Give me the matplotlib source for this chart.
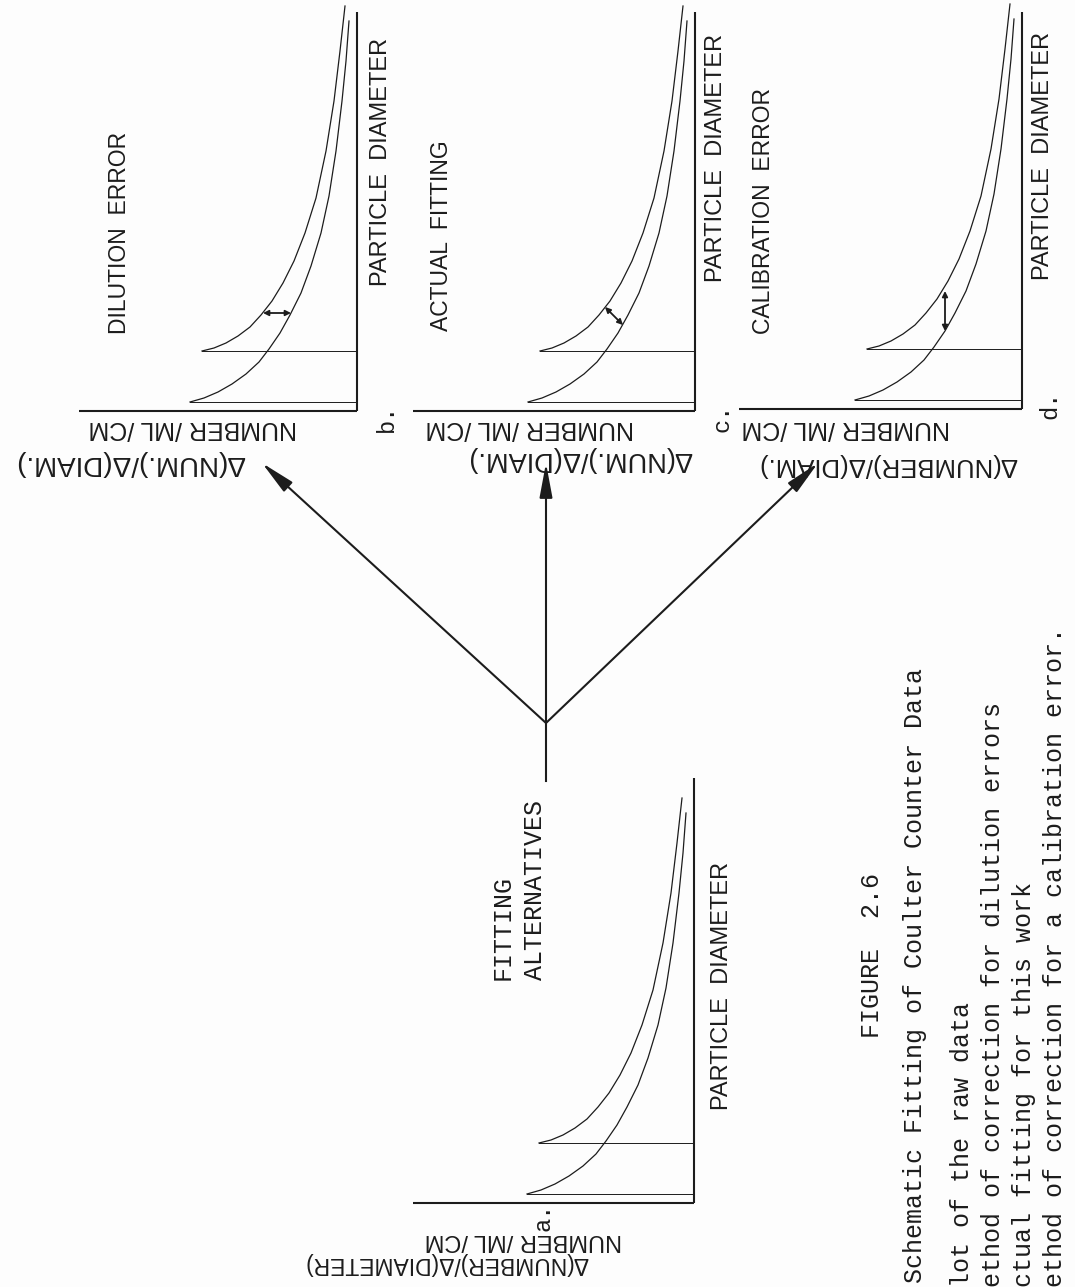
import numpy as np
import matplotlib
matplotlib.use('Agg')
import matplotlib.pyplot as plt
from matplotlib.transforms import Affine2D

# schematic curves in panel units:
# diameter = distance up from the number axis, number = distance left of the diameter axis
raw_diam = [9, 13, 19, 27, 37, 49, 62, 78, 96, 118, 145, 178, 215, 260, 310, 350, 390]
raw_num = [167, 153, 139, 125, 111, 98, 88, 77, 67, 56, 46, 36, 28, 21, 15, 11, 8]
fit_diam = [60, 63, 68, 75, 84, 96, 110, 128, 150, 178, 213, 260, 310, 360, 405]
fit_num = [155, 143, 131, 119, 107, 96, 85, 74, 63, 52, 41, 31, 23, 17, 12]

panel_keys = ['a', 'b', 'c', 'd']
panel_titles = ['', 'DILUTION  ERROR', 'ACTUAL  FITTING', 'CALIBRATION  ERROR']
panel_ylabels = ['\u0394(NUMBER)/\u0394(DIAMETER)', '\u0394(NUM.)/\u0394(DIAM.)',
                 '\u0394(NUM.)/\u0394(DIAM.)', '\u0394(NUMBER)/\u0394(DIAM.)']

# correction arrows (diameter, number) at both ends, one per panel
arrow_start = {'b': (98, 94), 'c': (104, 90), 'd': (118, 77)}
arrow_end = {'b': (98, 66), 'c': (86, 72), 'd': (78, 77)}

# page layout (pixels of the scanned sheet)
W, H = 1075, 1287
orig_x = {'a': 694, 'b': 357, 'c': 695, 'd': 1022}
orig_y = {'a': 1203, 'b': 411, 'c': 411, 'd': 409}
ax_up = {'a': 425, 'b': 399, 'c': 399, 'd': 397}
ax_left = {'a': 281, 'b': 278, 'c': 282, 'd': 283}
title_pos = {'b': (119, 233), 'c': (441, 236), 'd': (764, 211)}
xlab_pos = {'a': (722, 986), 'b': (381, 162), 'c': (716, 158), 'd': (1043, 156)}
num_pos = {'a': (523, 1240), 'b': (193, 428), 'c': (530, 428), 'd': (846, 428)}
delta_pos = {'a': (446, 1264), 'b': (130, 463), 'c': (580, 459), 'd': (888, 465)}
delta_size = {'a': 16.5, 'b': 20, 'c': 19.5, 'd': 18.5}
key_pos = {'a': (543, 1217), 'b': (386, 418), 'c': (722, 418), 'd': (1050, 405)}

ink = '#1c1c1c'
sans = ['Liberation Sans', 'DejaVu Sans']
mono = ['Liberation Mono', 'DejaVu Sans Mono']

fig = plt.figure(figsize=(W / 100, H / 100), dpi=100)
fig.patch.set_facecolor('#fdfdfd')
ax = fig.add_axes([0, 0, 1, 1])
ax.set_xlim(0, W)
ax.set_ylim(H, 0)
ax.axis('off')

for i, k in enumerate(panel_keys):
    ox, oy = orig_x[k], orig_y[k]
    # panel frame rotated onto the page: diameter goes up, number goes left
    tr = Affine2D(np.array([[0, -1, ox], [-1, 0, oy], [0, 0, 1]], float)) + ax.transData

    ax.plot([0, ax_up[k]], [0, 0], color=ink, lw=1.5, transform=tr, solid_capstyle='butt')
    ax.plot([0, 0], [0, ax_left[k]], color=ink, lw=1.5, transform=tr, solid_capstyle='butt')

    ax.plot(raw_diam, raw_num, color=ink, lw=0.9, transform=tr)
    ax.plot(fit_diam, fit_num, color=ink, lw=0.9, transform=tr)
    ax.plot([raw_diam[0], raw_diam[0]], [raw_num[0], 0], color=ink, lw=0.7, transform=tr)
    ax.plot([fit_diam[0], fit_diam[0]], [fit_num[0], 0], color=ink, lw=0.7, transform=tr)

    if k in arrow_start:
        ax.annotate('', xy=arrow_end[k], xytext=arrow_start[k], xycoords=tr, textcoords=tr,
                    arrowprops=dict(arrowstyle='<|-|>', color=ink, lw=1.3,
                                    mutation_scale=8, shrinkA=0, shrinkB=0))

    if panel_titles[i]:
        tx, ty = title_pos[k]
        ax.text(tx, ty, panel_titles[i], rotation=90, rotation_mode='anchor',
                ha='center', va='center', fontsize=16.5, family=sans, color=ink)
    lx, ly = xlab_pos[k]
    ax.text(lx, ly, 'PARTICLE  DIAMETER', rotation=90, rotation_mode='anchor',
            ha='center', va='center', fontsize=17, family=sans, color=ink)
    nx, ny = num_pos[k]
    ax.text(nx, ny, 'NUMBER /ML /CM', rotation=180, rotation_mode='anchor',
            ha='center', va='center', fontsize=18 if k != 'a' else 17,
            family=sans, color=ink)
    dx, dy = delta_pos[k]
    ax.text(dx, dy, panel_ylabels[i], rotation=180, rotation_mode='anchor',
            ha='center', va='center', fontsize=delta_size[k], family=sans, color=ink)
    kx, ky = key_pos[k]
    ax.text(kx, ky, k + '.', rotation=90, rotation_mode='anchor',
            ha='center', va='center', fontsize=17, family=mono, color=ink)

# fan of arrows to the three fitting alternatives
vertex = (546, 723)
tips = [(262, 463), (546, 463), (818, 463)]
ax.plot([vertex[0], vertex[0]], [vertex[1], 781], color=ink, lw=1.5)
for tip in tips:
    ax.annotate('', xy=tip, xytext=vertex, xycoords='data',
                arrowprops=dict(arrowstyle='-|>,head_length=1.5,head_width=0.28',
                                color=ink, lw=1.5, mutation_scale=14,
                                shrinkA=0, shrinkB=0))

ax.text(503, 980, 'FITTING', rotation=90, rotation_mode='anchor',
        ha='left', va='center', fontsize=18, family=mono, color=ink)
ax.text(535, 980, 'ALTERNATIVES', rotation=90, rotation_mode='anchor',
        ha='left', va='center', fontsize=18, family=mono, color=ink)

# caption, typed sideways and running off the sheet
ax.text(872, 955, 'FIGURE  2.6', rotation=90, rotation_mode='anchor',
        ha='center', va='center', fontsize=18, family=mono, color=ink)
caption = [(915, 1283, 'Schematic Fitting of Coulter Counter Data'),
           (962, 1302, 'Plot of the raw data'),
           (993, 1302, 'Method of correction for dilution errors'),
           (1024, 1302, 'Actual fitting for this work'),
           (1055, 1302, 'Method of correction for a calibration error.')]
for cx, cy, line in caption:
    ax.text(cx, cy, line, rotation=90, rotation_mode='anchor',
            ha='left', va='center', fontsize=18, family=mono, color=ink)

fig.savefig('out.png', dpi=100, facecolor=fig.get_facecolor())
